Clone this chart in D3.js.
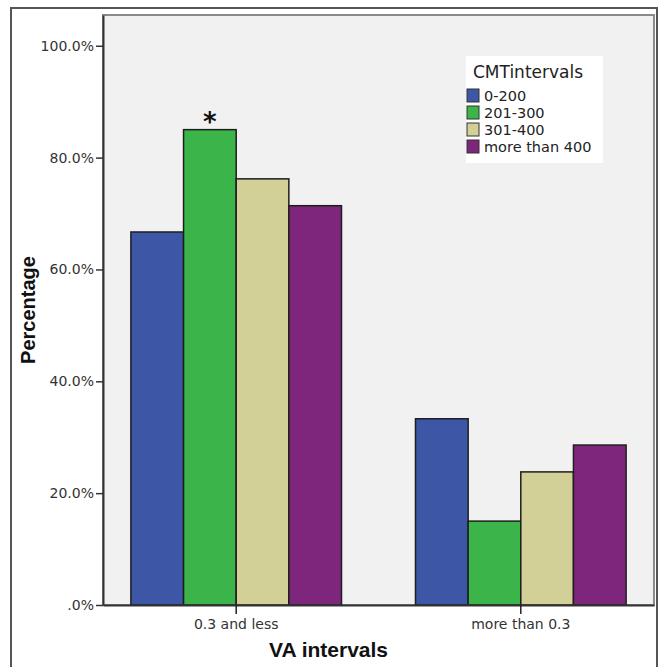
<!DOCTYPE html>
<html>
<head>
<meta charset="utf-8">
<script src="https://cdn.jsdelivr.net/npm/d3@7"></script>
<style>
  html, body { margin: 0; padding: 0; background: #fff; }
  svg { display: block; }
</style>
</head>
<body>
<svg id="chart" width="659" height="667"></svg>
<script>
// ---- data ----
const categories = ["0.3 and less", "more than 0.3"];
const seriesNames = ["0-200", "201-300", "301-400", "more than 400"];
const series_0_200 = [66.7, 33.3];
const series_201_300 = [85.0, 15.0];
const series_301_400 = [76.2, 23.8];
const series_more_400 = [71.4, 28.6];
const yTicks = [0, 20, 40, 60, 80, 100];
const yTickLabels = [".0%", "20.0%", "40.0%", "60.0%", "80.0%", "100.0%"];
const colors = ["#3d56a5", "#3bb44a", "#d2cf97", "#7e267b"];
const significant = [{ category: "0.3 and less", series: "201-300" }];

const seriesValues = [series_0_200, series_201_300, series_301_400, series_more_400];

const svg = d3.select("#chart");
const plot = { left: 103, right: 654, top: 15, bottom: 605 };

// outer frame
svg.append("rect")
  .attr("x", 11).attr("y", 8).attr("width", 646).attr("height", 680)
  .attr("fill", "#fff").attr("stroke", "#555").attr("stroke-width", 2);

const y = d3.scaleLinear().domain([0, 105.5]).range([plot.bottom, plot.top]);
const x0 = d3.scaleBand().domain(categories).range([plot.left, plot.right])
  .paddingInner(0.26).paddingOuter(0.098);
const x1 = d3.scaleBand().domain(seriesNames).range([0, x0.bandwidth()]).padding(0);
const color = d3.scaleOrdinal().domain(seriesNames).range(colors);

// plot background
svg.append("rect")
  .attr("x", plot.left).attr("y", plot.top)
  .attr("width", plot.right - plot.left).attr("height", plot.bottom - plot.top)
  .attr("fill", "#f1f1f1").attr("stroke", "#8a8a8a").attr("stroke-width", 2);

// bars
const data = [];
categories.forEach((c, i) => {
  seriesNames.forEach((s, j) => data.push({ category: c, series: s, value: seriesValues[j][i] }));
});
svg.append("g").selectAll("rect").data(data).join("rect")
  .attr("x", d => x0(d.category) + x1(d.series))
  .attr("y", d => y(d.value))
  .attr("width", x1.bandwidth())
  .attr("height", d => y(0) - y(d.value))
  .attr("fill", d => color(d.series))
  .attr("stroke", "#1e1e1e").attr("stroke-width", 1.5);

// significance star
svg.append("g").selectAll("text").data(significant).join("text")
  .attr("x", d => x0(d.category) + x1(d.series) + x1.bandwidth() / 2)
  .attr("y", d => y(seriesValues[seriesNames.indexOf(d.series)][categories.indexOf(d.category)]) + 1)
  .attr("text-anchor", "middle")
  .attr("font-family", "DejaVu Sans, sans-serif")
  .attr("font-weight", "bold").attr("font-size", 26)
  .attr("fill", "#111")
  .text("*");

// y axis
const yAxis = d3.axisLeft(y).tickValues(yTicks)
  .tickFormat((d, i) => yTickLabels[i]).tickSize(7).tickSizeOuter(0).tickPadding(2);
const gy = svg.append("g").attr("transform", `translate(${plot.left},0)`).call(yAxis);
gy.select(".domain").attr("stroke", "#333").attr("stroke-width", 2);
gy.selectAll(".tick line").attr("stroke", "#333").attr("stroke-width", 1.5);
gy.selectAll(".tick text")
  .attr("font-family", "DejaVu Sans, sans-serif").attr("font-size", 14).attr("fill", "#333");

// x axis
const xAxis = d3.axisBottom(x0).tickSize(9).tickSizeOuter(0).tickPadding(5);
const gx = svg.append("g").attr("transform", `translate(0,${plot.bottom})`).call(xAxis);
gx.select(".domain").attr("stroke", "#333").attr("stroke-width", 2);
gx.selectAll(".tick line").attr("stroke", "#222").attr("stroke-width", 1.5);
gx.selectAll(".tick text")
  .attr("font-family", "DejaVu Sans, sans-serif").attr("font-size", 14).attr("fill", "#333");

// axis titles
svg.append("text")
  .attr("x", (plot.left + plot.right) / 2 - 50).attr("y", 657)
  .attr("text-anchor", "middle")
  .attr("font-family", "Liberation Sans, Arial, sans-serif")
  .attr("font-weight", "bold").attr("font-size", 21).attr("fill", "#111")
  .text("VA intervals");

svg.append("text")
  .attr("transform", `translate(35,310) rotate(-90)`)
  .attr("text-anchor", "middle")
  .attr("font-family", "Liberation Sans, Arial, sans-serif")
  .attr("font-weight", "bold").attr("font-size", 20).attr("fill", "#111")
  .text("Percentage");

// legend
const lg = svg.append("g").attr("transform", "translate(466,56)");
lg.append("rect").attr("width", 137).attr("height", 107).attr("fill", "#fff");
lg.append("text").attr("x", 7).attr("y", 22)
  .attr("font-family", "DejaVu Sans, sans-serif").attr("font-size", 17).attr("fill", "#222")
  .text("CMTintervals");
const items = lg.selectAll("g.item").data(seriesNames).join("g")
  .attr("class", "item")
  .attr("transform", (d, i) => `translate(1,${33 + i * 17})`);
items.append("rect").attr("width", 12).attr("height", 13)
  .attr("fill", d => color(d)).attr("stroke", "#333").attr("stroke-width", 1);
items.append("text").attr("x", 17).attr("y", 11.5)
  .attr("font-family", "DejaVu Sans, sans-serif").attr("font-size", 14.5).attr("fill", "#222")
  .text(d => d);
</script>
</body>
</html>
